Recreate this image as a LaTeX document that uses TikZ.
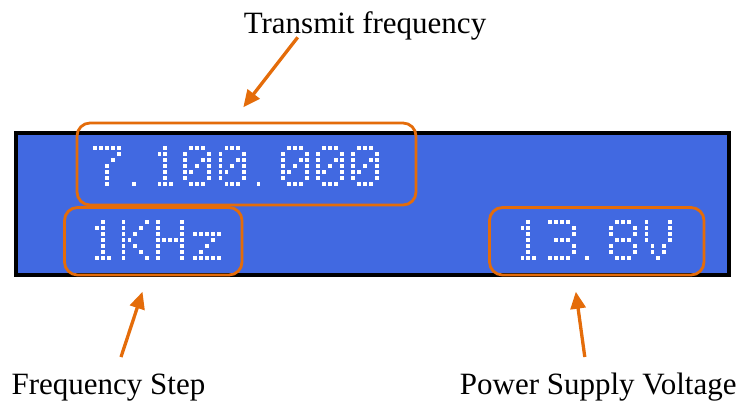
\documentclass[tikz,border=0pt]{standalone}
\usepackage{fontspec}
\setmainfont{Liberation Serif}
\usetikzlibrary{calc,arrows.meta}
\definecolor{lcdblue}{RGB}{65,105,225}
\definecolor{markorange}{RGB}{228,108,10}

\def\glyphSeven{0/0,1/0,2/0,3/0,4/0,4/1,3/2,2/3,2/4,2/5,2/6}
\def\glyphOne{2/0,1/1,2/1,2/2,2/3,2/4,2/5,1/6,2/6,3/6}
\def\glyphZero{1/0,2/0,3/0,0/1,4/1,0/2,3/2,4/2,0/3,2/3,4/3,0/4,1/4,4/4,0/5,4/5,1/6,2/6,3/6}
\def\glyphDot{0/6}
\def\glyphK{0/0,4/0,0/1,3/1,0/2,2/2,0/3,1/3,0/4,2/4,0/5,3/5,0/6,4/6}
\def\glyphH{0/0,4/0,0/1,4/1,0/2,4/2,0/3,1/3,2/3,3/3,4/3,0/4,4/4,0/5,4/5,0/6,4/6}
\def\glyphz{0/2,1/2,2/2,3/2,4/2,3/3,2/4,1/5,0/6,1/6,2/6,3/6,4/6}
\def\glyphThree{0/0,1/0,2/0,3/0,4/1,4/2,1/3,2/3,3/3,4/4,4/5,0/6,1/6,2/6,3/6}
\def\glyphEight{1/0,2/0,3/0,0/1,4/1,0/2,4/2,1/3,2/3,3/3,0/4,4/4,0/5,4/5,1/6,2/6,3/6}
\def\glyphV{0/0,4/0,0/1,4/1,0/2,4/2,0/3,4/3,1/4,3/4,1/5,3/5,2/6}

\newcommand\lcdchar[3]{%
  \foreach \gx/\gy in #3 {
    \fill[lcddot] ({#1+\gx*5.9-1.9},{#2+\gy*5.95-1.9}) rectangle ++(3.8,3.8);
  }}

\begin{document}
\begin{tikzpicture}[x=0.5pt,y=-0.5pt,
    lcdpanel/.style={draw=black,line width=2pt,fill=lcdblue,inner sep=0pt},
    lcddot/.style={fill=white},
    markbox/.style={draw=markorange,line width=1.4pt,rounded corners=6.5pt,inner sep=0pt},
    marklabel/.style={inner sep=0pt,anchor=base,font=\fontsize{15.5}{18}\selectfont},
    markarrow/.style={draw=markorange,line width=1.65pt,-{Triangle[length=8.5pt,width=7.5pt]}}]
  \useasboundingbox (0,0) rectangle (739,403);

  \node[lcdpanel,minimum width=356.6pt,minimum height=70.85pt] (lcd) at (372.1,203.85) {};

  \lcdchar{95.3}{148}{\glyphSeven}
  \lcdchar{134.2}{148}{\glyphDot}
  \lcdchar{153.5}{148}{\glyphOne}
  \lcdchar{185.3}{148}{\glyphZero}
  \lcdchar{220.5}{148}{\glyphZero}
  \lcdchar{258.5}{148}{\glyphDot}
  \lcdchar{283}{148}{\glyphZero}
  \lcdchar{318}{148}{\glyphZero}
  \lcdchar{353}{148}{\glyphZero}

  \lcdchar{91}{222.3}{\glyphOne}
  \lcdchar{123.5}{222.3}{\glyphK}
  \lcdchar{158}{222.3}{\glyphH}
  \lcdchar{195}{222.3}{\glyphz}
  \lcdchar{516.5}{222.3}{\glyphOne}
  \lcdchar{550}{222.3}{\glyphThree}
  \lcdchar{587}{222.3}{\glyphDot}
  \lcdchar{611}{222.3}{\glyphEight}
  \lcdchar{646.5}{222.3}{\glyphV}

  \node[markbox,minimum width=169.5pt,minimum height=41pt] (txbox) at (246.5,164) {};
  \node[markbox,minimum width=88.75pt,minimum height=33.75pt] (stepbox) at (153.25,241.25) {};
  \node[markbox,minimum width=107.25pt,minimum height=33.75pt] (voltbox) at (596.75,241.25) {};

  \node[marklabel] (txlabel) at (365,33) {Transmit frequency};
  \node[marklabel] (steplabel) at (108.5,394) {Frequency Step};
  \node[marklabel,anchor=base east] (voltlabel) at (737,394) {Power Supply Voltage};

  \coordinate (txtail) at (297.7,37.3);
  \coordinate (txtip) at (243.3,107.3);
  \coordinate (steptail) at (121,357);
  \coordinate (steptip) at (142.5,291.7);
  \coordinate (volttail) at (584.8,357);
  \coordinate (volttip) at (575.8,291.7);
  \draw[markarrow] (txtail) -- (txtip);
  \draw[markarrow] (steptail) -- (steptip);
  \draw[markarrow] (volttail) -- (volttip);
\end{tikzpicture}
\end{document}
